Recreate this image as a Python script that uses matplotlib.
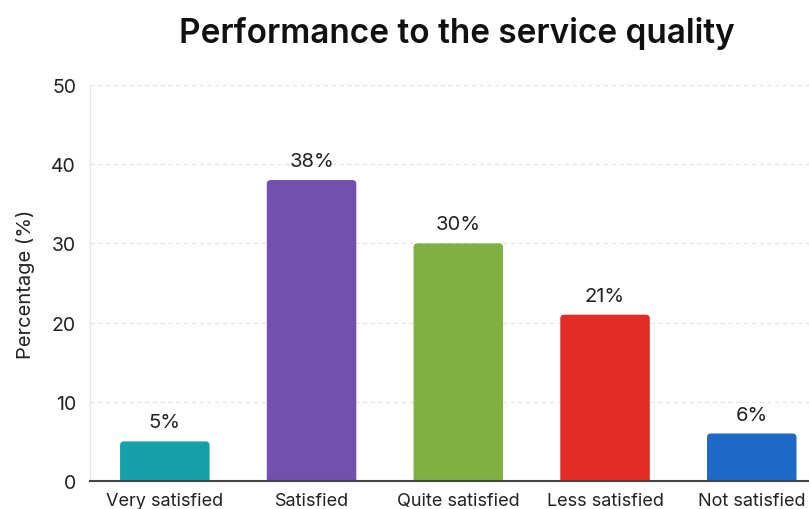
import matplotlib
matplotlib.use("Agg")
import matplotlib.pyplot as plt
from matplotlib.patches import FancyBboxPatch

categories = ["Very satisfied", "Satisfied", "Quite satisfied", "Less satisfied", "Not satisfied"]
percentages = [5, 38, 30, 21, 6]
bar_colors = ["#16a0aa", "#7350b0", "#80b043", "#e32b27", "#1e68c8"]
y_ticks = [0, 10, 20, 30, 40, 50]

plt.rcParams["font.family"] = ["Inter", "DejaVu Sans"]

fig = plt.figure(figsize=(8.09, 5.10), dpi=100)
ax = fig.add_axes([90 / 809, 28 / 510, 719 / 809, 396 / 510])

ax.set_xlim(-0.51, 4.39)
ax.set_ylim(0, 50)

x = list(range(len(categories)))
bars = ax.bar(x, percentages, width=0.61, color=bar_colors, zorder=2)

# Replace the plain rectangles by bars with slightly rounded corners
px_x = 719 / (4.39 + 0.51)
px_y = 396 / 50
for rect, color in zip(bars, bar_colors):
    rect.set_visible(False)
    x0, w, h = rect.get_x(), rect.get_width(), rect.get_height()
    r = 4 / px_x
    patch = FancyBboxPatch((x0 + r, -2 + r * px_x / px_y), w - 2 * r, h + 2 - 2 * r * px_x / px_y,
                           boxstyle=f"round,pad={r},rounding_size={r}",
                           mutation_aspect=px_x / px_y, facecolor=color,
                           edgecolor="none", zorder=2, clip_on=True)
    ax.add_patch(patch)

for xi, v in zip(x, percentages):
    ax.text(xi, v + 1.25, f"{v}%", ha="center", va="bottom", fontsize=14.5, color="#222222")

ax.set_yticks(y_ticks)
ax.set_xticks(x)
ax.set_xticklabels(categories)
ax.tick_params(axis="y", length=0, labelsize=14, colors="#222222", pad=10)
ax.tick_params(axis="x", length=0, labelsize=13, colors="#222222", pad=8)

ax.yaxis.grid(True, linestyle=(0, (4, 3)), color="#e2e2e2", linewidth=0.8, zorder=0)
ax.set_axisbelow(True)

for side in ("top", "right"):
    ax.spines[side].set_visible(False)
ax.spines["left"].set_color("#e6e6e6")
ax.spines["left"].set_linewidth(1.0)
ax.spines["bottom"].set_color("#444444")
ax.spines["bottom"].set_linewidth(1.5)
ax.spines["bottom"].set_zorder(3)

ax.set_ylabel("Percentage (%)", fontsize=14.5, color="#222222", labelpad=12)

fig.text(457 / 809, 1 - 33 / 510, "Performance to the service quality",
         ha="center", va="center", fontsize=24, fontweight="semibold", color="#111111")

fig.savefig("out.png", dpi=100, facecolor="white")
